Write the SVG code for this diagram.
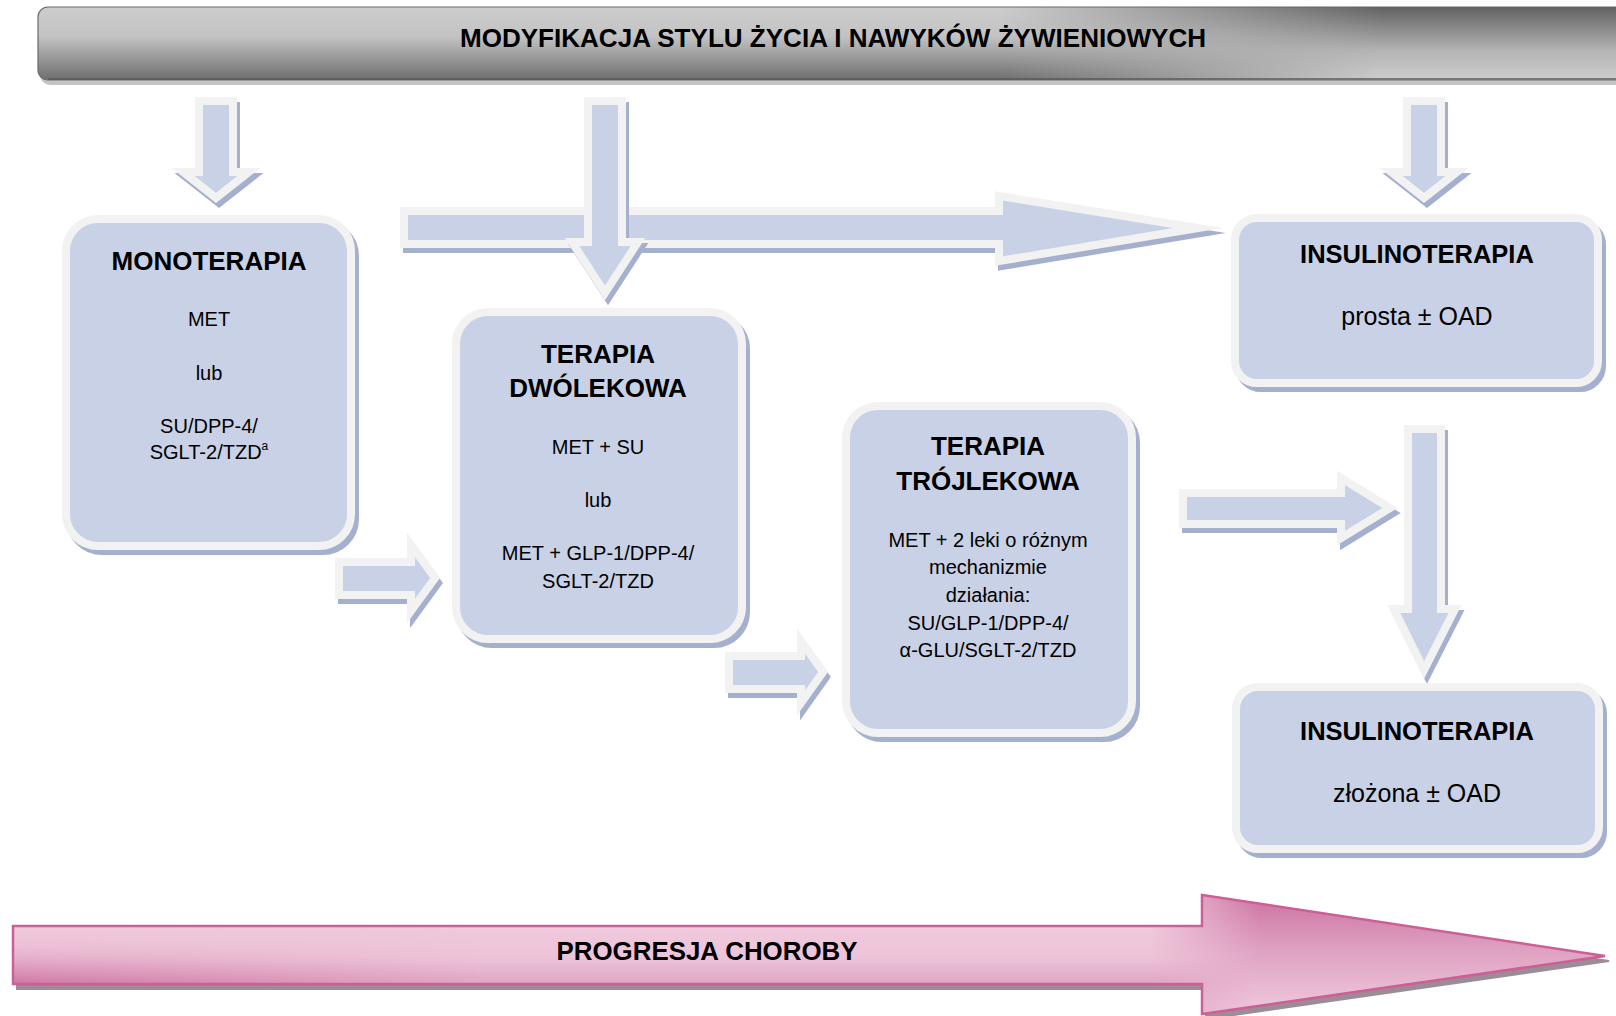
<svg xmlns="http://www.w3.org/2000/svg" width="1616" height="1016" viewBox="0 0 1616 1016">
<defs>
<style>
text{font-family:"Liberation Sans",Arial,sans-serif;fill:#000;text-anchor:middle}
.h{font-weight:bold;font-size:26px}
.hi{font-weight:bold;font-size:25.5px}
.b{font-size:20px}
.bi{font-size:25px}
.bar{font-weight:bold;font-size:25.5px}
.box{fill:#c9d1e6;stroke:#f2f2f2;stroke-width:8}
.boxsh{fill:#a5b0cf;stroke:#a5b0cf;stroke-width:8}
.arr{fill:#c9d1e6;stroke:#f2f2f2;stroke-width:8;stroke-miterlimit:10}
.arrsh{fill:#a5b0cf;stroke:#a5b0cf;stroke-width:8;stroke-miterlimit:10}
</style>
<linearGradient id="gBase" x1="0" y1="7" x2="0" y2="80" gradientUnits="userSpaceOnUse">
<stop offset="0" stop-color="#cdcdcd"/>
<stop offset="0.4" stop-color="#c3c3c3"/>
<stop offset="1" stop-color="#6e6e6e"/>
</linearGradient>
<linearGradient id="gRev" x1="0" y1="7" x2="0" y2="80" gradientUnits="userSpaceOnUse">
<stop offset="0" stop-color="#626262"/>
<stop offset="0.6" stop-color="#b4b4b4"/>
<stop offset="1" stop-color="#cdcdcd"/>
</linearGradient>
<linearGradient id="rampR" x1="1000" y1="0" x2="1380" y2="0" gradientUnits="userSpaceOnUse">
<stop offset="0" stop-color="#000"/>
<stop offset="1" stop-color="#fff"/>
</linearGradient>
<mask id="mR"><rect x="0" y="0" width="1640" height="100" fill="url(#rampR)"/></mask>
<linearGradient id="pBase" x1="0" y1="926" x2="0" y2="984" gradientUnits="userSpaceOnUse">
<stop offset="0" stop-color="#f0c9dd"/>
<stop offset="0.55" stop-color="#edc3d8"/>
<stop offset="1" stop-color="#e0a6c3"/>
</linearGradient>
<linearGradient id="pLeft" x1="0" y1="926" x2="0" y2="984" gradientUnits="userSpaceOnUse">
<stop offset="0" stop-color="#f0c9dd" stop-opacity="0"/>
<stop offset="0.4" stop-color="#e8b6cf" stop-opacity="0.6"/>
<stop offset="1" stop-color="#cf77a3"/>
</linearGradient>
<linearGradient id="rampL" x1="13" y1="0" x2="480" y2="0" gradientUnits="userSpaceOnUse">
<stop offset="0" stop-color="#fff"/>
<stop offset="1" stop-color="#000"/>
</linearGradient>
<mask id="mL"><rect x="0" y="880" width="1616" height="136" fill="url(#rampL)"/></mask>
<linearGradient id="pHead" x1="0" y1="895" x2="0" y2="1014" gradientUnits="userSpaceOnUse">
<stop offset="0" stop-color="#cc72a0"/>
<stop offset="0.45" stop-color="#dea0c0"/>
<stop offset="1" stop-color="#f0cadd"/>
</linearGradient>
<linearGradient id="rampH" x1="1150" y1="0" x2="1260" y2="0" gradientUnits="userSpaceOnUse">
<stop offset="0" stop-color="#000"/>
<stop offset="1" stop-color="#fff"/>
</linearGradient>
<mask id="mH"><rect x="0" y="880" width="1616" height="136" fill="url(#rampH)"/></mask>
<polygon id="pa" points="13,926 1202,926 1202,895 1605,956 1202,1014 1202,984 13,984"/>
<polygon id="a1" points="199,101 233,101 233,172 249,172 216,198 183,172 199,172"/>
<polygon id="a2" points="588,101 622,101 622,242 638,242 605,293 572,242 588,242"/>
<polygon id="a3" points="1407,101 1441,101 1441,172 1457,172 1424,198 1391,172 1407,172"/>
<polygon id="h1" points="404,211 999,211 999,196 1198,228 999,261 999,244 404,244"/>
<polygon id="h2" points="339,562 411,562 411,545 435,578 411,611 411,595 339,595"/>
<polygon id="h3" points="729,656 801,656 801,641 823,672 801,703 801,689 729,689"/>
<polygon id="h4" points="1183,493 1341,493 1341,478 1390,508 1341,538 1341,524 1183,524"/>
<polygon id="v5" points="1408,429 1441,429 1441,609 1455,609 1424,670 1394,609 1408,609"/>
</defs>
<rect width="1616" height="1016" fill="#fff"/>

<g id="top-bar">
<rect x="40" y="12" width="1600" height="73" rx="10" fill="#c4c4c4"/>
<rect x="38" y="7" width="1600" height="73" rx="10" fill="url(#gBase)" stroke="#6a6a6a" stroke-width="1.2"/>
<rect x="38" y="7" width="1600" height="73" rx="10" fill="url(#gRev)" mask="url(#mR)"/>
<line x1="48" y1="79" x2="1616" y2="79" stroke="#5a5a5a" stroke-width="1.5"/>
<text class="bar" x="833" y="47" textLength="746" lengthAdjust="spacingAndGlyphs">MODYFIKACJA STYLU ŻYCIA I NAWYKÓW ŻYWIENIOWYCH</text>
</g>

<g id="connectors">
<use href="#a1" class="arrsh" transform="translate(3,5)"/>
<use href="#a1" class="arr"/>
<use href="#a3" class="arrsh" transform="translate(3,5)"/>
<use href="#a3" class="arr"/>
<use href="#h1" class="arrsh" transform="translate(3,5)"/>
<use href="#h1" class="arr"/>
<use href="#a2" class="arrsh" transform="translate(3,5)"/>
<use href="#a2" class="arr"/>
<use href="#h2" class="arrsh" transform="translate(3,5)"/>
<use href="#h2" class="arr"/>
<use href="#h3" class="arrsh" transform="translate(3,5)"/>
<use href="#h3" class="arr"/>
<use href="#h4" class="arrsh" transform="translate(3,5)"/>
<use href="#h4" class="arr"/>
<use href="#v5" class="arrsh" transform="translate(3,5)"/>
<use href="#v5" class="arr"/>
</g>

<g id="monoterapia">
<rect class="boxsh" x="70" y="224" width="285" height="327" rx="32"/>
<rect class="box" x="66" y="219" width="285" height="327" rx="32"/>
<text class="h" x="209" y="270">MONOTERAPIA</text>
<text class="b" x="209" y="326">MET</text>
<text class="b" x="209" y="380">lub</text>
<text class="b" x="209" y="433">SU/DPP-4/</text>
<text class="b" x="209" y="459">SGLT-2/TZD<tspan font-size="12" dy="-9">a</tspan></text>
</g>

<g id="terapia-dwulekowa">
<rect class="boxsh" x="460" y="317" width="286" height="327" rx="32"/>
<rect class="box" x="456" y="312" width="286" height="327" rx="32"/>
<text class="h" x="598" y="363">TERAPIA</text>
<text class="h" x="598" y="397">DWÓLEKOWA</text>
<text class="b" x="598" y="454">MET + SU</text>
<text class="b" x="598" y="507">lub</text>
<text class="b" x="598" y="560">MET + GLP-1/DPP-4/</text>
<text class="b" x="598" y="588">SGLT-2/TZD</text>
</g>

<g id="terapia-trojlekowa">
<rect class="boxsh" x="850" y="411" width="286" height="327" rx="32"/>
<rect class="box" x="846" y="406" width="286" height="327" rx="32"/>
<text class="h" x="988" y="455">TERAPIA</text>
<text class="h" x="988" y="490">TRÓJLEKOWA</text>
<text class="b" x="988" y="547">MET + 2 leki o różnym</text>
<text class="b" x="988" y="574">mechanizmie</text>
<text class="b" x="988" y="602">działania:</text>
<text class="b" x="988" y="630">SU/GLP-1/DPP-4/</text>
<text class="b" x="988" y="657">α-GLU/SGLT-2/TZD</text>
</g>

<g id="insulinoterapia-prosta">
<rect class="boxsh" x="1239" y="223" width="363" height="165" rx="22"/>
<rect class="box" x="1235" y="218" width="363" height="165" rx="22"/>
<text class="hi" x="1417" y="263">INSULINOTERAPIA</text>
<text class="bi" x="1417" y="325">prosta ± OAD</text>
</g>

<g id="insulinoterapia-zlozona">
<rect class="boxsh" x="1240" y="692" width="363" height="162" rx="22"/>
<rect class="box" x="1236" y="687" width="363" height="162" rx="22"/>
<text class="hi" x="1417" y="740">INSULINOTERAPIA</text>
<text class="bi" x="1417" y="802">złożona ± OAD</text>
</g>

<g id="progresja-choroby">
<use href="#pa" transform="translate(4,5)" fill="#9b8c96" stroke="#9b8c96" stroke-width="2"/>
<use href="#pa" fill="url(#pBase)"/>
<use href="#pa" fill="url(#pLeft)" mask="url(#mL)"/>
<use href="#pa" fill="url(#pHead)" mask="url(#mH)"/>
<use href="#pa" fill="none" stroke="#cd5f98" stroke-width="2.5"/>
<text class="h" x="707" y="960" textLength="301" lengthAdjust="spacingAndGlyphs">PROGRESJA CHOROBY</text>
</g>
</svg>
